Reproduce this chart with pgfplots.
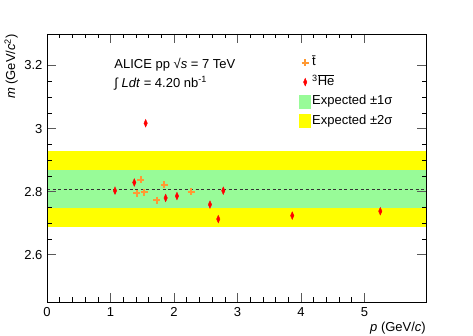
\documentclass[border=0pt]{standalone}
\usepackage{pgfplots}
\pgfplotsset{compat=1.18}
\usepackage{fontspec}
\setmainfont{Liberation Sans}
\definecolor{bandOne}{RGB}{152,251,152}
\definecolor{bandTwo}{RGB}{255,255,0}
\definecolor{tritCol}{RGB}{255,153,51}
\definecolor{heCol}{RGB}{255,0,0}
\pgfplotsset{
  markimg/.style={legend image code/.code={
    \draw[mark repeat=2,mark phase=2] plot coordinates {(0pt,0pt)(6pt,0pt)(12pt,0pt)};}},
  boximg/.style={legend image code/.code={
    \fill[##1] (0pt,-7pt) rectangle (12pt,7pt);}},
}
\begin{document}
\fontsize{13}{15}\selectfont
\begin{tikzpicture}
\useasboundingbox (0,0) rectangle (473pt,336pt);
\begin{axis}[
  at={(47pt,34pt)}, anchor=south west,
  scale only axis, width=379pt, height=268pt,
  font=\fontsize{13}{15}\selectfont,
  xmin=0, xmax=5.97, ymin=2.45, ymax=3.3,
  xtick={0,1,2,3,4,5}, ytick={2.6,2.8,3,3.2},
  minor x tick num=4, minor y tick num=3,
  xticklabels={0,1,2,3,4,5}, yticklabels={2.6,2.8,3,3.2},
  major tick length=9pt, minor tick length=4.5pt,
  tick align=inside,
  major tick style={black!65,line width=0.8pt},
  minor tick style={black,line width=0.5pt},
  axis line style={black,line width=0.7pt},
  axis on top,
  xlabel={\textit{p} (GeV/\textit{c})},
  ylabel={\textit{m} (GeV/\textit{c}\textsuperscript{2})},
  xlabel style={at={(rel axis cs:1,0)}, anchor=north east, yshift=-20pt, inner sep=0pt},
  ylabel style={at={(rel axis cs:0,1)}, anchor=south east, yshift=29pt, inner sep=0pt},
  ylabel shift=0pt,
  xticklabel style={yshift=-1pt},
  legend style={at={(0.665,0.921)}, anchor=north west, draw=none, fill=none,
    row sep=5pt, inner sep=0pt,
    nodes={inner sep=1pt, text height=9.5pt, text depth=3pt}},
  legend cell align=left,
]
% bands
\addplot[fill=bandTwo, draw=none, forget plot] coordinates {(0,2.688) (5.97,2.688) (5.97,2.929) (0,2.929)} -- cycle;
\addplot[fill=bandOne, draw=none, forget plot] coordinates {(0,2.747) (5.97,2.747) (5.97,2.869) (0,2.869)} -- cycle;
\addplot[black!80, dash pattern=on 3pt off 2.5pt, line width=0.6pt, forget plot] coordinates {(0,2.8084) (5.97,2.8084)};
% anti-triton
\addplot[only marks, markimg, mark=+, mark size=3.5pt, tritCol, mark options={line width=2pt}] coordinates {
  (1.480,2.837) (1.412,2.795) (1.528,2.798) (1.847,2.822) (1.732,2.773) (2.272,2.799)
};
\addlegendentry{\=t}
% anti-helium-3
\addplot[only marks, markimg, mark=diamond*, mark size=3.8pt, heCol, mark options={xscale=0.6}] coordinates {
  (1.554,3.017) (1.071,2.803) (1.375,2.829) (1.869,2.780) (2.047,2.786)
  (2.567,2.759) (2.698,2.713) (2.777,2.803) (3.863,2.724) (5.250,2.738)
};
\addlegendentry{\textsuperscript{3}$\overline{\mbox{He}}$}
\addlegendimage{boximg, fill=bandOne, draw=none}
\addlegendentry{Expected ±1σ}
\addlegendimage{boximg, fill=bandTwo, draw=none}
\addlegendentry{Expected ±2σ}
\node[anchor=base west] at (rel axis cs:0.166,0.873) {ALICE pp √\textit{s} = 7 TeV};
\node[anchor=base west] at (rel axis cs:0.166,0.802) {∫ \textit{Ldt} = 4.20 nb\textsuperscript{-1}};
\end{axis}
\end{tikzpicture}
\end{document}
